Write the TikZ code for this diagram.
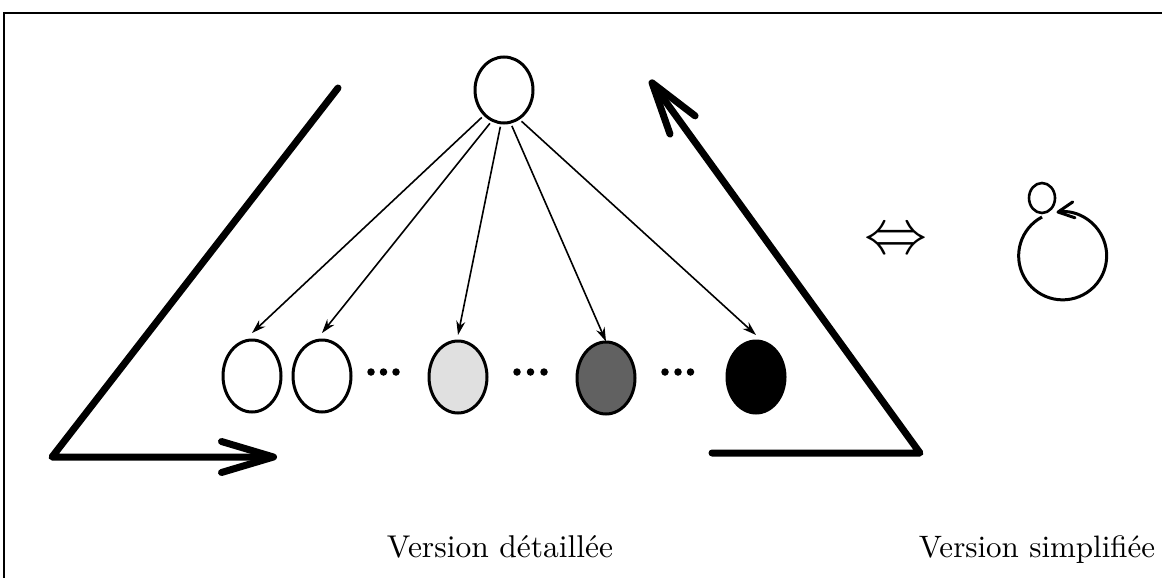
\documentclass[tikz,border=0pt]{standalone}
\usetikzlibrary{arrows.meta,shapes.geometric}
\tikzset{
  blob/.style={ellipse, draw, line width=3pt, minimum width=58pt, minimum height=72pt, inner sep=0pt, outer sep=0pt},
  thinarrow/.style={line width=1.6pt, -{Stealth[length=14pt,width=9pt]}, shorten <=4pt},
  bigarrow/.style={line width=7pt, line cap=round, line join=round, -{Straight Barb[length=52pt,width=31pt,round]}},
  loopline/.style={line width=3pt, -{Straight Barb[length=16pt,width=16pt,round]}},
  dotmark/.style={fill, circle, inner sep=0pt, minimum size=7.5pt},
  caption/.style={anchor=base, inner sep=0pt},
}
\begin{document}
\begin{tikzpicture}[x=1pt,y=-1pt]
\useasboundingbox (0,0) rectangle (1162,578);
% frame
\draw[line width=1.8pt] (1162,13) -- (4,13) -- (4,578);

% detailed version
\node[blob, minimum width=58pt, minimum height=66pt] (top) at (504,90) {};
\node[blob] (e1) at (252,376) {};
\node[blob] (e2) at (322,376) {};
\node[blob, fill=black!12] (e3) at (458,377) {};
\node[blob, fill=black!62] (e4) at (606,378) {};
\node[blob, fill=black] (e5) at (756,377) {};

\foreach \x in {371,383.5,396,517,530.5,544,665,678,690.5}
  \node[dotmark] at (\x,372) {};

\draw[thinarrow] (top.232) -- ([yshift=7pt]e1.north);
\draw[thinarrow] (top.249) -- ([yshift=7pt]e2.north);
\draw[thinarrow] (top.265) -- ([yshift=6pt]e3.north);
\draw[thinarrow] (top.281) -- ([yshift=0.5pt]e4.north);
\draw[thinarrow] (top.297) -- ([yshift=6pt]e5.north);

% big arrows
\coordinate (la) at (338,88);
\coordinate (lb) at (52,457);
\coordinate (lc) at (277,457);
\draw[bigarrow] (la) -- (lb) -- (lc);
\coordinate (ra) at (712,453);
\coordinate (rb) at (920,453);
\coordinate (rc) at (650,80);
\draw[bigarrow] (ra) -- (rb) -- (rc);

% equivalence
\node[inner sep=0pt] (eq) at (896,242) {\scalebox{6.3}{$\Leftrightarrow$}};

% simplified version
\node[blob, line width=2.6pt, minimum width=26pt, minimum height=30pt] (s) at (1042,198) {};
\draw[loopline] ([yshift=-4pt]s.south) arc[start angle=242, end angle=-98, radius=44];

% captions
\node[caption] (cap1) at (500,557) {\scalebox{3.15}{Version détaillée}};
\node[caption] (cap2) at (1037,557) {\scalebox{3.1}{Version simplifiée}};
\end{tikzpicture}
\end{document}
